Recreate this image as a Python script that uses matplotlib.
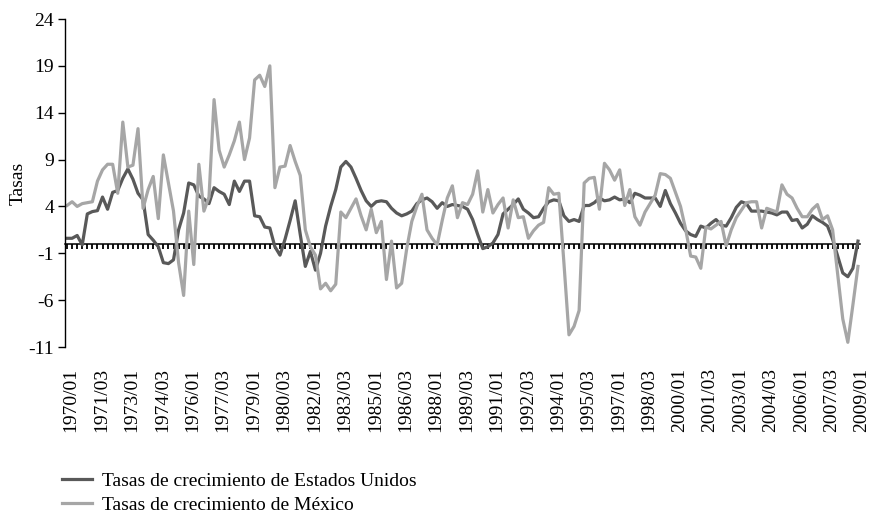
import numpy as np
import matplotlib
matplotlib.use("Agg")
import matplotlib.pyplot as plt
from matplotlib.transforms import ScaledTranslation

plt.rcParams['font.family'] = ['Liberation Serif', 'DejaVu Serif']

# quarterly periods 1970/01 .. 2009/01
periodos = [f"{1970 + k // 4}/{k % 4 + 1:02d}" for k in range(157)]

estados_unidos = [
    0.6, 0.6, 0.9, -0.1, 3.2, 3.45, 3.55, 5.0, 3.7, 5.5,
    5.7, 7.0, 8.0, 6.9, 5.4, 4.7, 1.0, 0.4, -0.3, -2.0,
    -2.1, -1.7, 1.5, 3.3, 6.5, 6.3, 5.1, 4.8, 4.3, 6.0,
    5.6, 5.3, 4.2, 6.7, 5.6, 6.7, 6.7, 3.0, 2.9, 1.8,
    1.7, -0.3, -1.2, 0.5, 2.5, 4.6, 1.0, -2.4, -0.8, -2.8,
    -1.0, 1.9, 4.0, 5.8, 8.2, 8.8, 8.2, 7.0, 5.7, 4.6,
    4.0, 4.5, 4.6, 4.5, 3.8, 3.3, 3.0, 3.2, 3.5, 4.3,
    4.7, 4.9, 4.5, 3.8, 4.4, 4.0, 4.2, 4.1, 4.0, 3.7,
    2.6, 1.0, -0.5, -0.3, 0.1, 1.0, 3.2, 3.7, 4.2, 4.8,
    3.7, 3.3, 2.8, 2.9, 3.8, 4.5, 4.7, 4.6, 3.0, 2.4,
    2.6, 2.4, 4.1, 4.1, 4.4, 4.9, 4.6, 4.7, 5.0, 4.7,
    4.8, 4.4, 5.4, 5.2, 4.9, 4.9, 4.9, 4.0, 5.7, 4.3,
    3.3, 2.2, 1.4, 1.0, 0.8, 1.9, 1.7, 2.2, 2.6, 2.0,
    1.9, 2.8, 3.9, 4.5, 4.3, 3.5, 3.5, 3.5, 3.4, 3.3,
    3.1, 3.4, 3.4, 2.5, 2.6, 1.7, 2.1, 3.0, 2.6, 2.3,
    1.9, 0.5, -1.3, -3.1, -3.5, -2.6, 0.3,
]

mexico = [
    4.1, 4.5, 4.0, 4.3, 4.4, 4.5, 6.7, 7.9, 8.5, 8.5,
    5.4, 13.0, 8.2, 8.4, 12.3, 3.8, 5.8, 7.2, 2.7, 9.5,
    6.5, 3.5, -2.0, -5.5, 3.5, -2.2, 8.5, 3.5, 5.0, 15.4,
    10.0, 8.2, 9.5, 11.0, 13.0, 9.0, 11.3, 17.5, 18.0, 16.8,
    19.0, 6.0, 8.2, 8.3, 10.5, 8.8, 7.3, 1.5, -0.3, -1.2,
    -4.8, -4.2, -5.0, -4.3, 3.4, 2.8, 3.8, 4.8, 3.0, 1.5,
    3.7, 1.2, 2.4, -3.8, 0.3, -4.7, -4.2, -0.5, 2.4, 4.0,
    5.3, 1.5, 0.6, -0.1, 2.5, 4.9, 6.2, 2.8, 4.4, 4.2,
    5.3, 7.8, 3.4, 5.8, 3.3, 4.2, 4.9, 1.7, 4.7, 2.8,
    2.9, 0.6, 1.4, 2.0, 2.3, 6.0, 5.3, 5.4, -2.0, -9.7,
    -8.8, -7.1, 6.5, 7.0, 7.1, 3.7, 8.6, 7.9, 6.8, 7.9,
    4.1, 5.8, 2.9, 2.0, 3.4, 4.3, 5.2, 7.5, 7.4, 7.0,
    5.5, 4.0, 1.6, -1.3, -1.4, -2.6, 1.8, 1.6, 2.0, 2.4,
    -0.2, 1.5, 2.8, 3.6, 4.4, 4.5, 4.5, 1.7, 3.8, 3.6,
    3.4, 6.3, 5.3, 4.9, 3.8, 2.9, 2.9, 3.7, 4.2, 2.6,
    3.0, 1.5, -3.3, -8.0, -10.5, -6.5, -2.4,
]

y_ticks = [-11, -6, -1, 4, 9, 14, 19, 24]

x = np.arange(len(periodos))

fig = plt.figure(figsize=(8.7, 5.18), dpi=100)
ax = fig.add_axes([65 / 870, 1 - 347 / 518, 795 / 870, 328 / 518])

ax.plot(x, estados_unidos, color="#595959", lw=2.3, label="Tasas de crecimiento de Estados Unidos")
ax.plot(x, mexico, color="#a6a6a6", lw=2.3, label="Tasas de crecimiento de México")

ax.set_xlim(-0.4, 156.4)
ax.set_ylim(-11, 24)
ax.set_yticks(y_ticks)
ax.set_yticklabels([str(v) for v in y_ticks])
ax.tick_params(axis='y', direction='out', length=5, width=1, labelsize=14, pad=3)
ax.set_ylabel("Tasas", fontsize=14, labelpad=1)

for s in ['top', 'right', 'bottom']:
    ax.spines[s].set_visible(False)
ax.spines['left'].set_linewidth(1)

# category labels at the bottom, every 6 quarters
ax.set_xticks(x[::6])
ax.set_xticklabels(periodos[::6], rotation=90, fontsize=14)
ax.tick_params(axis='x', length=0, pad=15)
shift = ScaledTranslation(4 / 100, 0, fig.dpi_scale_trans)
for lbl in ax.get_xticklabels():
    lbl.set_transform(lbl.get_transform() + shift)

# horizontal axis at zero with a tick for each quarter
sec = ax.secondary_xaxis(0, transform=ax.transData)
sec.set_xticks(x)
sec.tick_params(axis='x', direction='out', length=3.5, width=1.3, labelbottom=False, color='black')
sec.spines['bottom'].set_linewidth(1.1)

fig.legend(loc='upper left', bbox_to_anchor=(62 / 870, 1 - 472 / 518), frameon=False,
           fontsize=14, handlelength=1.55, handletextpad=0.5, labelspacing=0.35,
           borderpad=0, borderaxespad=0)

fig.savefig("out.png", dpi=100)
